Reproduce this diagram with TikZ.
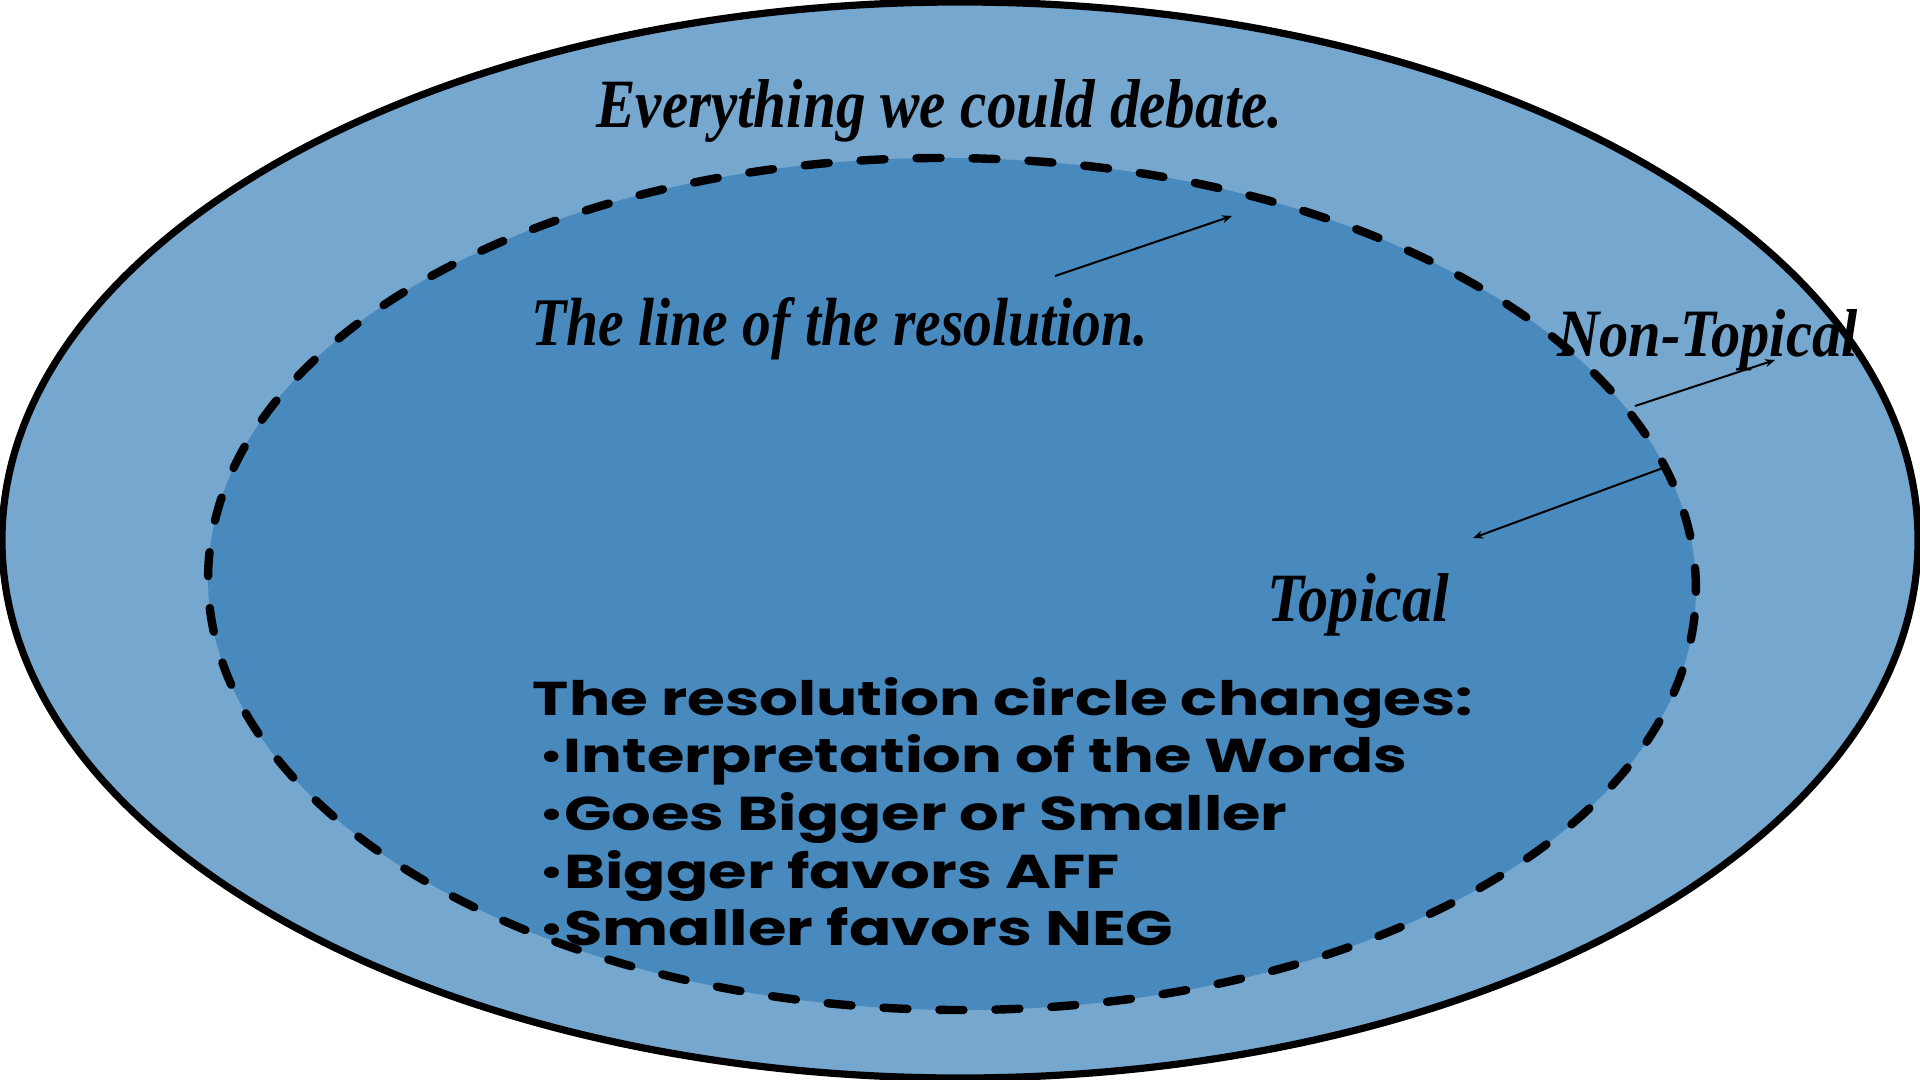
\documentclass[tikz,border=0pt]{standalone}
\usepackage{fontspec}
\usetikzlibrary{arrows.meta}
\newfontfamily\listfnt{Poppins}
\newfontfamily\handfnt{Liberation Serif}
\definecolor{outerblue}{HTML}{76A7CF}
\definecolor{innerblue}{HTML}{4889BE}
\tikzset{
  outerell/.style={draw=black, line width=3.6pt, fill=outerblue},
  innerell/.style={draw=black, line width=4.2pt, fill=innerblue, line cap=round, dash pattern=on 12pt off 16pt},
  scripttext/.style={inner sep=0pt, anchor=base west, font=\handfnt\bfseries\itshape},
  listtext/.style={inner sep=0pt, anchor=base west, font=\listfnt\bfseries},
  pointer/.style={draw=black, line width=1pt, -{Stealth[length=5pt,width=4pt]}}
}
\newcommand{\lbul}{\raisebox{0.05em}{\scalebox{0.8}{•}}}
\begin{document}
\begin{tikzpicture}[x=0.5pt,y=-0.5pt]
\useasboundingbox (0,0) rectangle (1920,1080);
\fill[white] (0,0) rectangle (1920,1080);
\draw[outerell] (960,540) ellipse[x radius=479pt, y radius=269pt];
\begin{scope}[shift={(952,584)}, rotate=-0.6]
\draw[innerell] (0,0) ellipse[x radius=372pt, y radius=213pt];
\end{scope}
\node[scripttext] (ev) at (596,128) {\resizebox{343pt}{24pt}{Everything we could debate.}};
\node[scripttext] (line) at (531,345) {\resizebox{308pt}{24pt}{The line of the resolution.}};
\node[scripttext] (nt) at (1557,357) {\resizebox{150pt}{23.5pt}{Non-Topical}};
\node[scripttext] (top) at (1267,621) {\resizebox{91pt}{24pt}{Topical}};
\node[listtext] (l1) at (532.5,715) {\resizebox{470pt}{19pt}{The resolution circle changes:}};
\node[listtext] (l2) at (539,772) {\resizebox{434pt}{19pt}{\lbul Interpretation of the Words}};
\node[listtext] (l3) at (539,830) {\resizebox{374pt}{19pt}{\lbul Goes Bigger or Smaller}};
\node[listtext] (l4) at (539,888) {\resizebox{290pt}{19pt}{\lbul Bigger favors AFF}};
\node[listtext] (l5) at (539,945) {\resizebox{317pt}{19pt}{\lbul Smaller favors NEG}};
\coordinate (a1s) at (1055,276);
\coordinate (a1e) at (1232,216);
\coordinate (a2s) at (1635,406);
\coordinate (a2e) at (1775,360);
\coordinate (a3s) at (1663,468);
\coordinate (a3e) at (1473,538);
\draw[pointer] (a1s) -- (a1e);
\draw[pointer] (a2s) -- (a2e);
\draw[pointer] (a3s) -- (a3e);
\end{tikzpicture}
\end{document}
